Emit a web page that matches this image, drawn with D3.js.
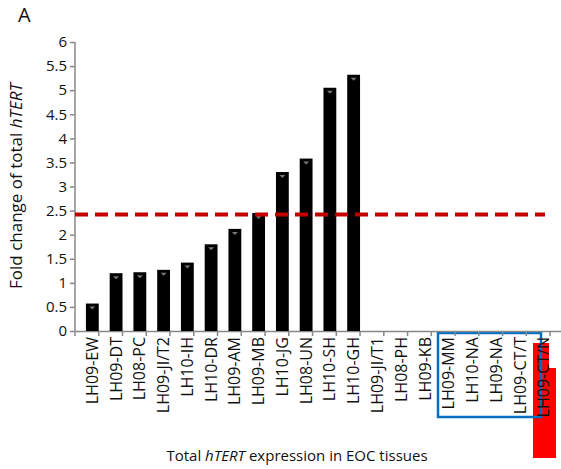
<!DOCTYPE html><html><head><meta charset="utf-8"><script src="https://cdn.jsdelivr.net/npm/d3@7"></script>
<style>body{margin:0;background:#fff}text{font-family:"Open Sans",Calibri,sans-serif;fill:#111}</style></head><body><svg width="561" height="469"></svg><script>
const categories=["LH09-EW","LH09-DT","LH08-PC","LH09-JI/T2","LH10-IH","LH10-DR","LH09-AM","LH09-MB","LH10-JG","LH08-UN","LH10-SH","LH10-GH","LH09-JI/T1","LH08-PH","LH09-KB","LH09-MM","LH10-NA","LH09-NA","LH09-CT/T","LH09-CT/N"];
const values=[0.57,1.2,1.22,1.27,1.42,1.8,2.12,2.45,3.3,3.58,5.05,5.32,0,0,0,0,0,0,0,0];
const threshold=2.42;
const yTicks=[0,0.5,1,1.5,2,2.5,3,3.5,4,4.5,5,5.5,6];
const svg=d3.select("svg");
const x=d3.scaleBand().domain(categories).range([75,561]).padding(0.46);
const y=d3.scaleLinear().domain([0,6]).range([331,42]);
svg.append("path").attr("d","M533,343H549V368H556V458H533Z").attr("fill","#ff0000");
svg.append("rect").attr("x",438).attr("y",333).attr("width",103).attr("height",84).attr("fill","none").attr("stroke","#0070c0").attr("stroke-width",2.5);
const ya=svg.append("g").attr("transform","translate(75,0)").call(d3.axisLeft(y).tickValues(yTicks).tickFormat(d=>d).tickSize(5).tickSizeOuter(0));
const xa=svg.append("g").attr("transform","translate(0,331)").call(d3.axisBottom(x).tickSize(0).tickSizeOuter(0));
[ya,xa].forEach(a=>{a.selectAll("path,line").attr("stroke","#888").attr("stroke-width",1.5);a.selectAll("text").style("font-size","15px");});
xa.selectAll("text").style("font-size","16px");
ya.select(".domain").attr("d","M0,42V331");
xa.selectAll(".tick text").attr("transform","rotate(-90)").attr("text-anchor","end").attr("x",-6).attr("y",0).attr("dy","0.35em");
svg.append("g").selectAll("line").data(d3.range(categories.length+1)).join("line")
 .attr("x1",i=>75+i*x.step()).attr("x2",i=>75+i*x.step()).attr("y1",331).attr("y2",336).attr("stroke","#888").attr("stroke-width",1.5);
svg.append("g").selectAll("rect").data(values).join("rect")
 .attr("x",(d,i)=>x(categories[i])).attr("width",x.bandwidth()).attr("y",d=>y(d)).attr("height",d=>331-y(d)).attr("fill","#000");
svg.append("g").selectAll("path").data(values.filter(v=>v>0)).join("path")
 .attr("d",(d,i)=>{const cx=x(categories[i])+x.bandwidth()/2,cy=y(d)+3;return `M${cx-3},${cy}H${cx+3}L${cx},${cy+3}Z`;}).attr("fill","#777");
svg.append("line").attr("x1",75).attr("x2",545).attr("y1",y(threshold)).attr("y2",y(threshold)).attr("stroke","#c00000").attr("stroke-width",4).attr("stroke-dasharray","13,7");
svg.append("text").attr("x",18).attr("y",22).style("font-size","20px").text("A");
svg.append("text").attr("transform","translate(22,186) rotate(-90)").attr("text-anchor","middle").style("font-size","17px").html('Fold change of total <tspan font-style="italic">hTERT</tspan>');
svg.append("text").attr("x",297).attr("y",461).attr("text-anchor","middle").style("font-size","15px").html('Total <tspan font-style="italic">hTERT</tspan> expression in EOC tissues');
</script></body></html>
